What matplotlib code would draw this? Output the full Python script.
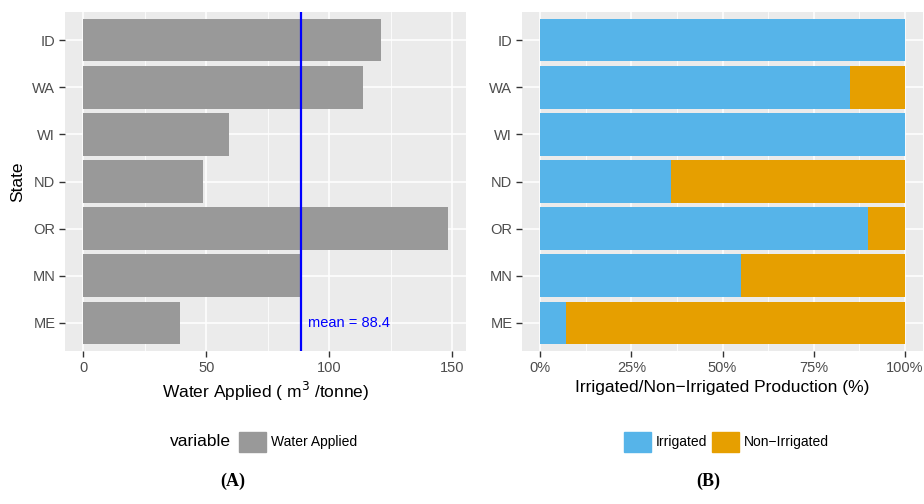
import numpy as np
import matplotlib.pyplot as plt
from matplotlib.patches import Patch
from matplotlib.ticker import MultipleLocator, FuncFormatter

plt.rcParams['font.family'] = ['Liberation Sans', 'DejaVu Sans']

# states listed top to bottom
states = ["ID", "WA", "WI", "ND", "OR", "MN", "ME"]
water_applied = [121.1, 113.7, 59.3, 48.8, 148.2, 88.3, 39.4]
irrigated = [1.00, 0.85, 1.00, 0.36, 0.90, 0.55, 0.07]
non_irrigated = [1 - v for v in irrigated]

bg = "#EBEBEB"
tick_col = "#4D4D4D"
gray_bar = "#999999"
c_irr = "#56B4E9"
c_non = "#E69F00"

W, H = 924, 504
fig = plt.figure(figsize=(W / 100, H / 100), dpi=100)


def px_axes(x0, y0, x1, y1):
    return fig.add_axes([x0 / W, 1 - y1 / H, (x1 - x0) / W, (y1 - y0) / H])


def gg_style(ax):
    ax.set_facecolor(bg)
    for s in ax.spines.values():
        s.set_visible(False)
    ax.grid(which="major", color="white", lw=1.1)
    ax.grid(which="minor", axis="x", color="white", lw=0.55)
    ax.set_axisbelow(True)
    ax.tick_params(which="major", length=4, width=1, color="#333333",
                   labelcolor=tick_col, labelsize=10.5, pad=3)
    ax.tick_params(which="minor", length=0)


ypos = np.arange(len(states))

# (A) water applied per tonne
ax1 = px_axes(65, 12, 466, 351)
gg_style(ax1)
ax1.barh(ypos, water_applied, height=0.9, color=gray_bar, zorder=2)
mean_val = np.mean(water_applied)
ax1.axvline(mean_val, color="blue", lw=1.6, zorder=3)
ax1.text(mean_val + 2.8, ypos[-1], "mean = %.1f" % mean_val, color="blue",
         fontsize=10.5, va="center", ha="left", zorder=4)
ax1.set_xlim(-7.4, 155.6)
ax1.set_ylim(len(states) - 0.4, -0.6)
ax1.set_yticks(ypos)
ax1.set_yticklabels(states)
ax1.xaxis.set_major_locator(MultipleLocator(50))
ax1.xaxis.set_minor_locator(MultipleLocator(25))
ax1.set_xlabel("Water Applied ( m$^3$ /tonne)", fontsize=12.5, labelpad=4)
ax1.set_ylabel("State", fontsize=12.5, labelpad=5)

# (B) irrigated vs non-irrigated share
ax2 = px_axes(522, 12, 923, 351)
gg_style(ax2)
ax2.barh(ypos, irrigated, height=0.9, color=c_irr, zorder=2)
ax2.barh(ypos, non_irrigated, left=irrigated, height=0.9, color=c_non, zorder=2)
ax2.set_xlim(-0.05, 1.05)
ax2.set_ylim(len(states) - 0.4, -0.6)
ax2.set_yticks(ypos)
ax2.set_yticklabels(states)
ax2.xaxis.set_major_locator(MultipleLocator(0.25))
ax2.xaxis.set_minor_locator(MultipleLocator(0.125))
ax2.xaxis.set_major_formatter(FuncFormatter(lambda v, p: "%d%%" % round(v * 100)))
ax2.set_xlabel("Irrigated/Non\u2212Irrigated Production (%)", fontsize=12.5, labelpad=4)

# legends below each panel
leg_y = 1 - 442 / H
fig.text(170 / W, leg_y, "variable", fontsize=12.5, va="center", ha="left")
leg_kw = dict(frameon=False, fontsize=10, handlelength=1.95, handleheight=1.85,
              handletextpad=0.35, columnspacing=0.35, borderpad=0,
              borderaxespad=0, loc="center left", ncol=2)
l1 = fig.legend(handles=[Patch(color=gray_bar, label="Water Applied")],
                bbox_to_anchor=(239 / W, leg_y), **leg_kw)
l2 = fig.legend(handles=[Patch(color=c_irr, label="Irrigated"),
                         Patch(color=c_non, label="Non\u2212Irrigated")],
                bbox_to_anchor=(624 / W, leg_y), **leg_kw)

fig.text(233 / W, 1 - 481 / H, "(A)", fontsize=13, fontweight="bold",
         family="Liberation Serif", ha="center", va="center")
fig.text(708 / W, 1 - 481 / H, "(B)", fontsize=13, fontweight="bold",
         family="Liberation Serif", ha="center", va="center")

fig.savefig("out.png", dpi=100)
